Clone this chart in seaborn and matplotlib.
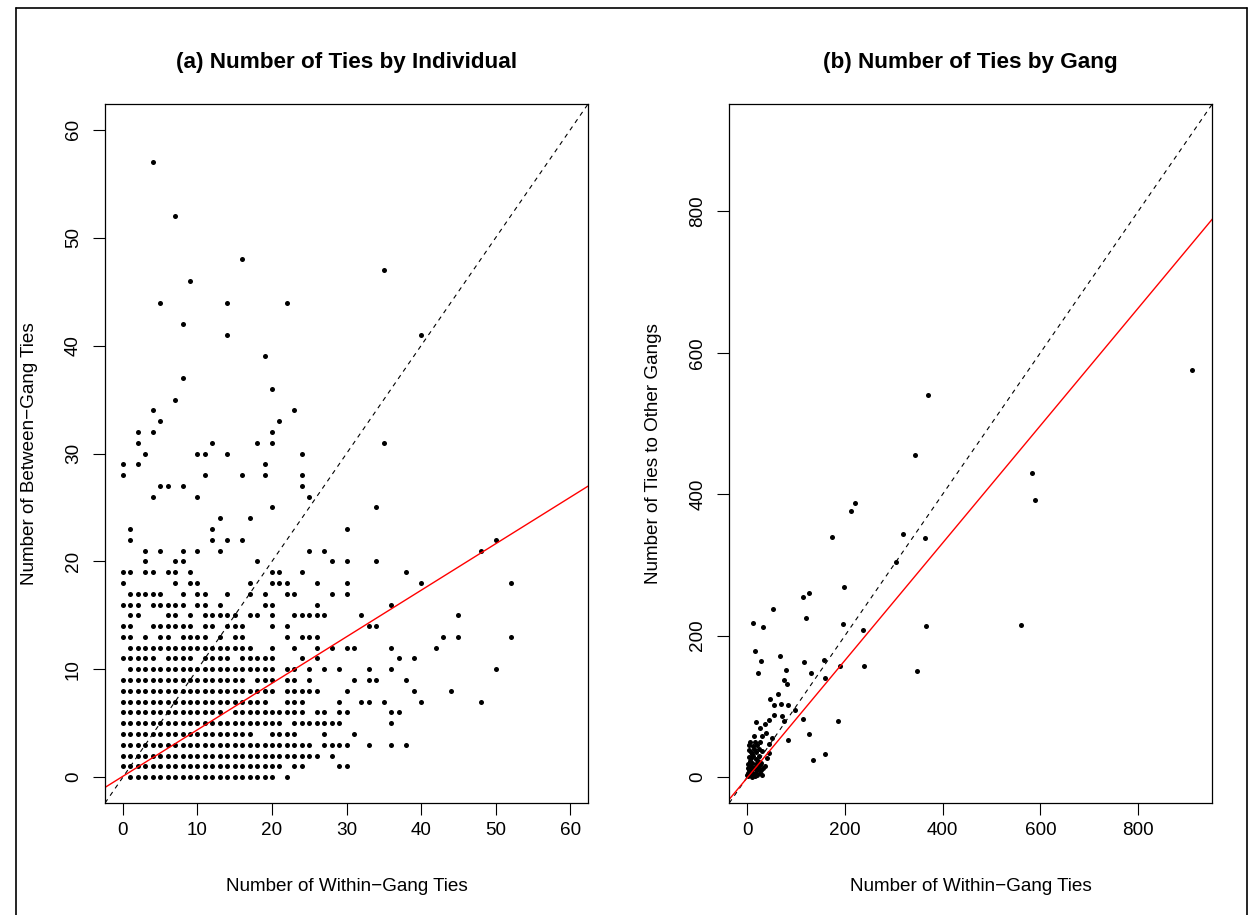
import matplotlib
matplotlib.use("Agg")
import matplotlib.pyplot as plt
import seaborn as sns
import numpy as np
import pandas as pd
from matplotlib.lines import Line2D

# (a) individuals: one entry per between-gang value, within-gang values listed ("a-b" = run)
ind_between = [0, 1, 2, 3, 4, 5, 6, 7, 8, 9, 10, 11, 12, 13, 14, 15, 16, 17, 18, 19,
               20, 21, 22, 23, 24, 25, 26, 27, 28, 29, 30, 31, 32, 33, 34, 35, 36, 37,
               39, 41, 42, 44, 46, 47, 48, 52, 57]
ind_within = [
    "1-20,22",
    "0-21,23,24,29,30",
    "0-26,28",
    "0-25,27,28,29,30,33,36,38",
    "0-17,20-23,27,31",
    "0-21,23-29,36",
    "0-13,15-24,26,27,29,30,36,37",
    "0-19,22,23,24,29,32,33,35,40,48",
    "0-20,22-26,30,39,44",
    "0-16,18,19,20,22,23,25,31,33,34,38",
    "1-20,22,23,25,27,29,33,36,50",
    "0-4,6-9,11-14,16-20,24,26,37,39",
    "1-17,20,23,26,28,30,31,36,42",
    "0,1,3,5,6,8-11,13,15,16,22,24,25,26,43,45,52",
    "0,1,4-9,11,12,14,15,16,20,22,33,34",
    "1,2,6,7,9,11-15,17,18,20,23-27,32,45",
    "0,1,2,4-8,10,11,13,19,20,26,36",
    "1-5,8,10,11,14,17,19,22,23,28,30",
    "0,7,9,10,17,20,21,22,26,30,40,52",
    "0,1,3,4,6,7,9,20,21,24,38",
    "3,7,8,18,28,30,34",
    "3,5,8,10,13,25,27,48",
    "1,12,14,16,50",
    "1,12,30",
    "13,17",
    "20,34",
    "4,10,25",
    "5,6,8,24",
    "0,11,16,19,24",
    "0,2,19",
    "3,10,11,14,24",
    "2,12,18,20,35",
    "2,4,20",
    "5,21",
    "4,23",
    "7",
    "20",
    "8",
    "19",
    "14,40",
    "8",
    "5,14,22",
    "9",
    "35",
    "16",
    "7",
    "4",
]
ind_fit = [0.08, 0.431]   # intercept, slope of the red line

# (b) gangs
gang_within = [911, 370, 343, 582, 590, 220, 212, 174, 318, 364, 304, 197, 114, 127,
               53, 121, 561, 348, 366, 236, 195, 238, 11, 33, 16, 28, 66, 115, 157, 21,
               80, 130, 160, 189, 76, 81, 47, 62, 55, 68, 84, 98, 54, 71, 17, 36, 45,
               76, 114, 186, 25, 29, 38, 50, 83, 126, 14, 15, 4, 44, 160, 135, 29, 44,
               24, 40, 9, 37, 25,
               2, 3, 5, 6, 8, 10, 12, 14, 16, 18, 20, 4, 7, 10, 1, 0, 2, 5, 9, 11,
               13, 15, 17, 19, 22, 3, 6, 1, 8, 12, 20, 18, 22, 25, 27, 30, 24, 26,
               32, 28]
gang_other = [576, 541, 455, 430, 392, 388, 376, 340, 343, 338, 304, 268, 254, 260,
              237, 225, 215, 150, 213, 208, 216, 157, 217, 212, 178, 164, 171, 162,
              165, 147, 151, 147, 140, 157, 137, 132, 110, 117, 101, 103, 102, 95, 87,
              86, 78, 75, 81, 79, 82, 79, 69, 58, 62, 55, 52, 61, 58, 49, 45, 46, 32,
              24, 37, 34, 30, 26, 33, 16, 17,
              5, 10, 2, 15, 8, 20, 4, 12, 1, 25, 9, 28, 35, 0, 1, 3, 18, 22, 14, 30,
              40, 6, 18, 3, 12, 38, 50, 12, 26, 44, 45, 35, 22, 5, 10, 2, 40, 50, 12,
              20]
gang_fit = [-1.0, 0.83]


def expand(spec):
    vals = []
    for part in spec.split(","):
        if "-" in part:
            a, b = part.split("-")
            vals.extend(range(int(a), int(b) + 1))
        else:
            vals.append(int(part))
    return vals


rows = []
for yv, spec in zip(ind_between, ind_within):
    for xv in expand(spec):
        rows.append((xv, yv))
df_ind = pd.DataFrame(rows, columns=["within", "between"])
df_gang = pd.DataFrame({"within": gang_within, "other": gang_other})

sns.set_style("ticks")
plt.rcParams['font.family'] = ['Liberation Sans', 'DejaVu Sans']
plt.rcParams.update({"text.color": "black", "axes.labelcolor": "black",
                     "xtick.color": "black", "ytick.color": "black",
                     "axes.edgecolor": "black"})

fig = plt.figure(figsize=(12.49, 9.15), dpi=100)
ax1 = fig.add_axes([0.0841, 0.1224, 0.3867, 0.7639])
ax2 = fig.add_axes([0.5839, 0.1224, 0.3867, 0.7639])

sns.scatterplot(data=df_ind, x="within", y="between", ax=ax1, color="black",
                s=13, linewidth=0, legend=False)
sns.scatterplot(data=df_gang, x="within", y="other", ax=ax2, color="black",
                s=13, linewidth=0, legend=False)

for ax, fit in [(ax1, ind_fit), (ax2, gang_fit)]:
    ax.axline((0, 0), slope=1, color="black", lw=0.8, ls=(0, (4, 4)))
    ax.axline((0, fit[0]), slope=fit[1], color="red", lw=1.0)

ax1.set_xlim(-2.4, 62.4)
ax1.set_ylim(-2.4, 62.4)
ax1.set_xticks(range(0, 61, 10))
ax1.set_yticks(range(0, 61, 10))
ax2.set_xlim(-37, 952)
ax2.set_ylim(-37, 952)
ax2.set_xticks(range(0, 801, 200))
ax2.set_yticks(range(0, 801, 200))

ax1.set_title("(a) Number of Ties by Individual", fontsize=16.2, fontweight="bold", pad=26)
ax2.set_title("(b) Number of Ties by Gang", fontsize=16.2, fontweight="bold", pad=26)
ax1.set_xlabel("Number of Within\u2212Gang Ties", fontsize=13.6, labelpad=28)
ax1.set_ylabel("Number of Between\u2212Gang Ties", fontsize=13.6, labelpad=19.5)
ax2.set_xlabel("Number of Within\u2212Gang Ties", fontsize=13.6, labelpad=28)
ax2.set_ylabel("Number of Ties to Other Gangs", fontsize=13.6, labelpad=19.5)

for ax in (ax1, ax2):
    ax.tick_params(axis="both", direction="out", length=8.5, width=0.8,
                   labelsize=13.6, color="black")
    ax.tick_params(axis="x", pad=5)
    ax.tick_params(axis="y", pad=8)
    for lab in ax.get_yticklabels():
        lab.set_rotation(90)
        lab.set_va("center")
    for sp in ax.spines.values():
        sp.set_color("black")
        sp.set_linewidth(0.9)

# outer frame of the figure
fig.add_artist(Line2D([0.013, 0.013], [0, 0.991], color="black", lw=1.2))
fig.add_artist(Line2D([0.013, 0.998], [0.991, 0.991], color="black", lw=1.2))
fig.add_artist(Line2D([0.998, 0.998], [0, 0.991], color="black", lw=1.2))

fig.savefig("out.png", dpi=100)
